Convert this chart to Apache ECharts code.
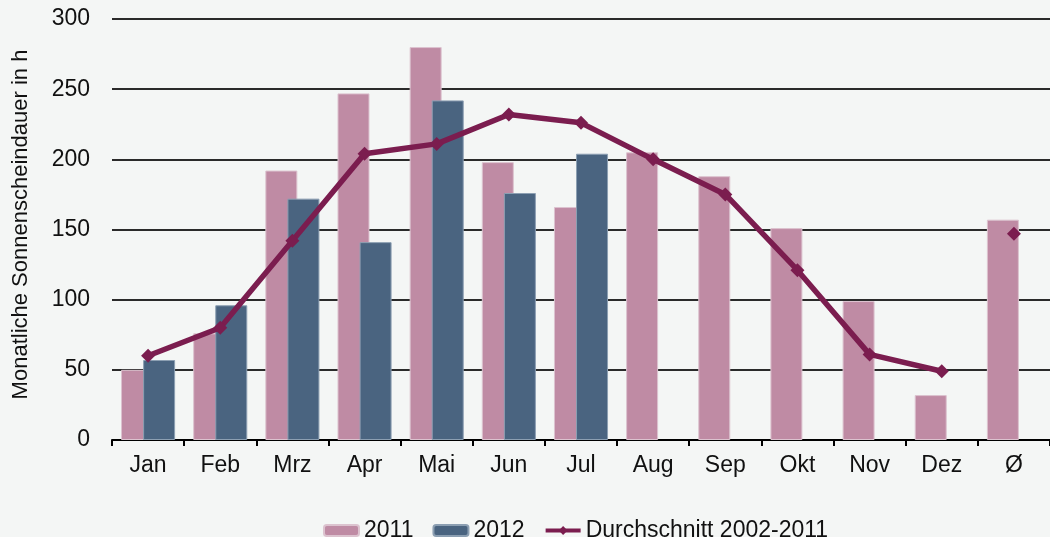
<!DOCTYPE html>
<html>
<head>
<meta charset="utf-8">
<script src="https://cdn.jsdelivr.net/npm/echarts@6/dist/echarts.min.js"></script>
<style>
  html, body { margin: 0; padding: 0; background: #f4f6f5; }
  #chart { width: 1050px; height: 537px; }
</style>
</head>
<body>
<div id="chart"></div>
<script>
const categories = ['Jan', 'Feb', 'Mrz', 'Apr', 'Mai', 'Jun', 'Jul', 'Aug', 'Sep', 'Okt', 'Nov', 'Dez', 'Ø'];
const sun2011 = [50, 76, 192, 247, 280, 198, 166, 205, 188, 151, 99, 32, 157];
const sun2012 = [57, 96, 172, 141, 242, 176, 204, null, null, null, null, null, null];
const avgMonths = [60, 80, 142, 204, 211, 232, 226, 200, 175, 121, 61, 49, null];
const avgTotal = [null, null, null, null, null, null, null, null, null, null, null, null, 147];
const yTicks = [0, 50, 100, 150, 200, 250, 300];

const font = '"Liberation Sans", Arial, sans-serif';
const lineName = 'Durchschnitt 2002-2011';
const lineColor = '#7b1d4f';

const chart = echarts.init(document.getElementById('chart'));

chart.setOption({
  backgroundColor: '#f4f6f5',
  animation: false,
  textStyle: { fontFamily: font },
  grid: { left: 112, top: 19, width: 946, bottom: 97, containLabel: false },
  legend: {
    left: 318,
    top: 514,
    itemWidth: 35,
    itemHeight: 11,
    itemGap: 19,
    textStyle: { fontSize: 23, color: '#111', fontFamily: font },
    lineStyle: { width: 4 },
    data: ['2011', '2012', lineName]
  },
  xAxis: {
    type: 'category',
    data: categories,
    axisLine: { lineStyle: { color: '#000', width: 2 } },
    axisTick: { show: true, length: 6, lineStyle: { color: '#000', width: 2 } },
    axisLabel: { fontSize: 23, color: '#111', margin: 14, fontFamily: font }
  },
  yAxis: {
    type: 'value',
    min: yTicks[0],
    max: yTicks[yTicks.length - 1],
    interval: 50,
    name: 'Monatliche Sonnenscheindauer in h',
    nameLocation: 'middle',
    nameGap: 80,
    nameTextStyle: { fontSize: 22, color: '#111', fontFamily: font, padding: [0, 0, 0, 10] },
    axisLine: { show: false },
    axisTick: { show: false },
    axisLabel: { fontSize: 23, color: '#111', margin: 22, fontFamily: font },
    splitLine: { lineStyle: { color: '#2a2a2a', width: 2 } }
  },
  series: [
    {
      name: '2011',
      type: 'bar',
      data: sun2011,
      barWidth: 32,
      barGap: '-31%',
      itemStyle: { color: '#bf8ba4', borderColor: '#dcc3cf', borderWidth: 1 }
    },
    {
      name: '2012',
      type: 'bar',
      data: sun2012,
      barWidth: 32,
      barGap: '-31%',
      itemStyle: { color: '#4a6480', borderColor: '#8c9fb2', borderWidth: 1 }
    },
    {
      name: lineName,
      type: 'line',
      data: avgMonths,
      symbol: 'diamond',
      symbolSize: 14,
      lineStyle: { color: lineColor, width: 5.5 },
      itemStyle: { color: lineColor },
      z: 5
    },
    {
      name: lineName,
      type: 'line',
      data: avgTotal,
      symbol: 'diamond',
      symbolSize: 14,
      showAllSymbol: true,
      lineStyle: { color: lineColor, width: 5.5 },
      itemStyle: { color: lineColor },
      z: 5
    }
  ]
});
</script>
</body>
</html>
